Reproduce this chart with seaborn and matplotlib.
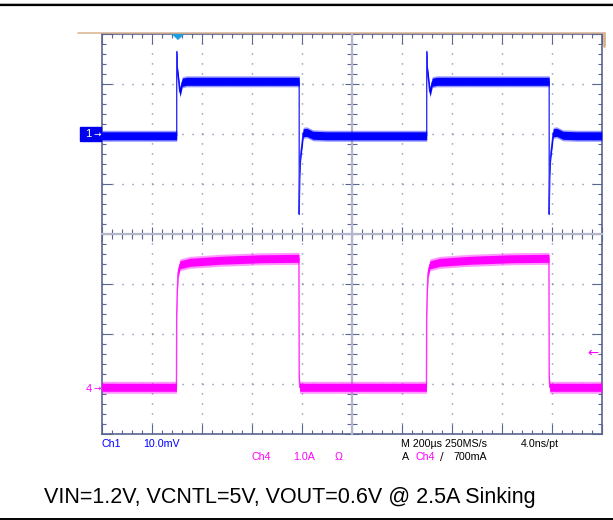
import numpy as np
import matplotlib
matplotlib.use("Agg")
import matplotlib.pyplot as plt
import seaborn as sns
from matplotlib.patches import Rectangle
from matplotlib.lines import Line2D

# scope settings
time_per_div = 200          # us
ch1_scale, ch1_pos = 10.0, 2.0    # mV/div, div
ch4_scale, ch4_pos = 1.0, -3.08   # A/div, div
trig_level = 0.7            # A

# Ch1 (output voltage ripple, mV), t in us from trigger
time_ch1 = [-300, 0, 0, 2, 6, 12, 16, 22, 40, 490, 490, 492, 496, 501, 506, 520, 545, 600,
            1000, 1000, 1002, 1006, 1012, 1016, 1022, 1040, 1490, 1490, 1492, 1496, 1501, 1506, 1520, 1545, 1600, 1700]
ch1_mv = [-0.3, -0.3, 16.5, 13.0, 11.5, 8.5, 9.0, 10.4, 10.6, 10.6, -16.0, -8.0, -4.0, -2.0, 0.3, 0.4, -0.2, -0.3,
          -0.3, 16.5, 13.0, 11.5, 8.5, 9.0, 10.4, 10.6, 10.6, -16.0, -8.0, -4.0, -2.0, 0.3, 0.4, -0.2, -0.3, -0.3]

# Ch4 (load current, A)
time_ch4 = [-300, -1, 0, 2, 5, 13, 53, 173, 333, 489, 490, 492,
            999, 1000, 1002, 1005, 1013, 1053, 1173, 1333, 1489, 1490, 1492, 1700]
ch4_a = [0.02, 0.02, 1.5, 1.9, 2.3, 2.47, 2.52, 2.56, 2.59, 2.6, 0.25, 0.02,
         0.02, 1.5, 1.9, 2.3, 2.47, 2.52, 2.56, 2.59, 2.6, 0.25, 0.02, 0.02]

caption = "VIN=1.2V, VCNTL=5V, VOUT=0.6V @ 2.5A Sinking"

BLUE = "#0000ff"
MAG = "#ff00ff"
FRAME = "#5b6591"
DOT = "#6e78a0"
CENTER = "#b4b6cc"
TAN = "#d9b18f"

W, H = 613, 520
def fx(px):
    return px / W
def fy(py):
    return 1 - py / H

sns.set_theme(style="white")
plt.rcParams["font.family"] = ["Liberation Sans", "DejaVu Sans"]
plt.rcParams["lines.scale_dashes"] = False

fig = plt.figure(figsize=(W / 100, H / 100), dpi=100)
rect = [fx(101.7), fy(434.3), 500 / W, 400 / H]
x0, x1 = -1.5 * time_per_div, 8.5 * time_per_div

# graticule frame
ax = fig.add_axes(rect)
ax.set_xlim(x0, x1)
ax.set_ylim(-4, 4)
ax.set_xticks(np.arange(x0, x1 + 1, time_per_div))
ax.set_xticks(np.arange(x0, x1 + 1, time_per_div / 5), minor=True)
ax.set_yticks(np.arange(-4, 4.01, 1))
ax.set_yticks(np.arange(-4, 4.01, 0.2), minor=True)
ax.tick_params(which="both", direction="in", top=True, right=True, bottom=True, left=True,
               labelbottom=False, labelleft=False, color=FRAME, width=0.8)
ax.tick_params(which="major", length=7.2)
ax.tick_params(which="minor", length=2.6)
for sp in ax.spines.values():
    sp.set_color(FRAME)
    sp.set_linewidth(1.2)
ax.grid(which="major", color=DOT, linestyle=(0, (0.8, 6.4)), lw=1.0)

# centre cross with ticks
axc = fig.add_axes(rect)
axc.set_xlim(x0, x1)
axc.set_ylim(-4, 4)
axc.patch.set_visible(False)
axc.spines["left"].set_position(("data", x0 + 5 * time_per_div))
axc.spines["bottom"].set_position(("data", 0))
axc.spines["top"].set_visible(False)
axc.spines["right"].set_visible(False)
for k in ["left", "bottom"]:
    axc.spines[k].set_color(CENTER)
    axc.spines[k].set_linewidth(1.6)
axc.set_xticks(np.arange(x0, x1 + 1, time_per_div))
axc.set_xticks(np.arange(x0, x1 + 1, time_per_div / 5), minor=True)
axc.set_yticks(np.arange(-4, 4.01, 1))
axc.set_yticks(np.arange(-4, 4.01, 0.2), minor=True)
axc.tick_params(which="both", direction="inout", bottom=True, left=True, top=False, right=False,
                labelbottom=False, labelleft=False, color=FRAME, width=0.8)
axc.tick_params(which="major", length=10)
axc.tick_params(which="minor", length=7.2)

# channel axes with their own vertical scale
ax1 = fig.add_axes(rect)
ax4 = fig.add_axes(rect)


def draw_trace(a, t, v, col, w_core, w_halo):
    t = np.asarray(t, float)
    v = np.asarray(v, float)
    a.fill_between(t, v - w_halo, v + w_halo, color=col, alpha=0.4, lw=0)
    a.fill_between(t, v - w_core, v + w_core, color=col, lw=0)
    sns.lineplot(x=t, y=v, ax=a, sort=False, estimator=None, color=col, lw=1.0, alpha=0.8)


draw_trace(ax1, time_ch1, ch1_mv, BLUE, 0.8, 1.1)
draw_trace(ax4, time_ch4, ch4_a, MAG, 0.08, 0.12)

ax1.set_ylim((-4 - ch1_pos) * ch1_scale, (4 - ch1_pos) * ch1_scale)
ax4.set_ylim((-4 - ch4_pos) * ch4_scale, (4 - ch4_pos) * ch4_scale)
for a in (ax1, ax4):
    a.set_xlim(x0, x1)
    a.axis("off")

# trigger position marker
ax.plot(0, 4, marker=[(-1, 0), (1, 0), (0, -0.9)], ms=8, color="#1b9fe3",
        clip_on=False, zorder=10)

# ground markers
fig.add_artist(Rectangle((fx(80), fy(140.7)), 21 / W, 13.7 / H, transform=fig.transFigure,
                         color="#0000ee", zorder=5))
fig.text(fx(88.5), fy(134.3), "1", color="white", fontsize=8, ha="center", va="center", zorder=6)
fig.text(fx(101), fy(134.6), "→", color="white", fontsize=6.5, ha="right", va="center",
         family="DejaVu Sans", zorder=6)
fig.text(fx(88.5), fy(388.8), "4", color=MAG, fontsize=8, ha="center", va="center")
fig.text(fx(101), fy(388.6), "→", color=MAG, fontsize=6.5, ha="right", va="center",
         family="DejaVu Sans")
ax4.annotate("←", xy=(1, trig_level), xycoords=("axes fraction", "data"), xytext=(-14, 0),
             textcoords="offset pixels", ha="left", va="center", color=MAG, fontsize=9.5,
             family="DejaVu Sans", annotation_clip=False)

# readouts
fs = 7.7
fig.text(fx(102), fy(444), "Ch1", color=BLUE, fontsize=fs, va="center")
fig.text(fx(143), fy(444), "10.0mV", color=BLUE, fontsize=fs, va="center")
fig.text(fx(251.8), fy(456.5), "Ch4", color=MAG, fontsize=fs, va="center")
fig.text(fx(293), fy(456.5), "1.0A", color=MAG, fontsize=fs, va="center")
fig.text(fx(335), fy(456.5), "Ω", color=MAG, fontsize=fs, va="center")
fig.text(fx(401.4), fy(444), "M 200µs 250MS/s", color="black", fontsize=fs, va="center")
fig.text(fx(520.5), fy(444), "4.0ns/pt", color="black", fontsize=fs, va="center")
fig.text(fx(402.4), fy(456.5), "A", color="black", fontsize=fs, va="center")
fig.text(fx(415), fy(456.5), "Ch4", color=MAG, fontsize=fs, va="center")
fig.text(fx(440), fy(456.5), "∕", color="black", fontsize=fs, va="center", family="DejaVu Sans")
fig.text(fx(453.5), fy(456.5), "700mA", color="black", fontsize=fs, va="center")

fig.text(fx(289.5), fy(497.5), caption, color="black", fontsize=15.5, ha="center", va="center")

# page rules and tan bracket
fig.add_artist(Line2D([0, 1], [fy(2.5), fy(2.5)], color="#cccccc", lw=0.8))
fig.add_artist(Line2D([0, 1], [fy(5), fy(5)], color="black", lw=1.6))
fig.add_artist(Line2D([0, 1], [fy(519), fy(519)], color="black", lw=1.4))
fig.add_artist(Line2D([fx(78), fx(605)], [fy(33.3), fy(33.3)], color=TAN, lw=1.1))
fig.add_artist(Line2D([fx(604), fx(604)], [fy(33), fy(46)], color=TAN, lw=2))

fig.savefig("out.png", dpi=100)
